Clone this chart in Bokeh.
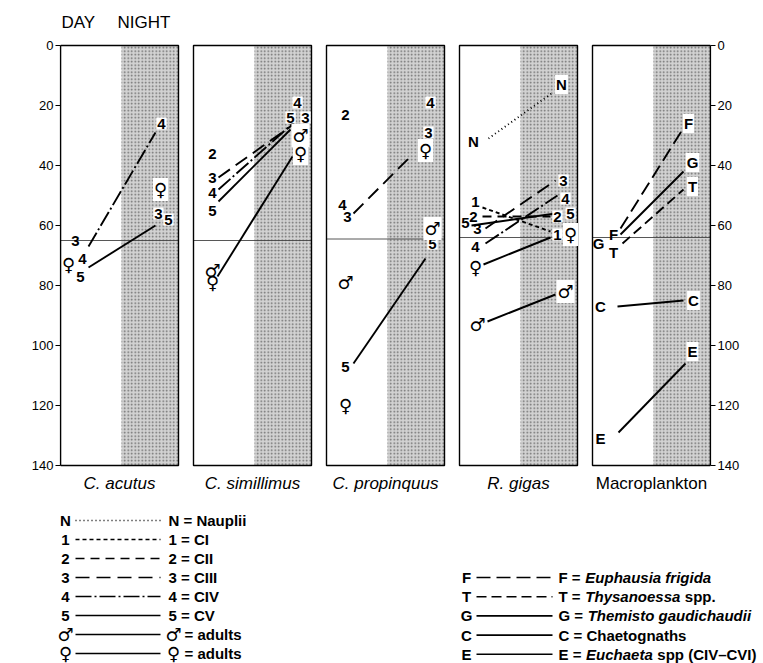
import math
from bokeh.plotting import figure
from bokeh.layouts import column
from bokeh.models import Range1d, LinearAxis, FixedTicker, Label
from bokeh.embed import file_html
from bokeh.resources import INLINE
from bokeh.core.properties import value

FONT = "Liberation Sans"
SYMFONT = "DejaVu Sans"

# ---------------- data (depths in m) ----------------
panel_names = ["C. acutus", "C. simillimus", "C. propinquus", "R. gigas", "Macroplankton"]
panel_styles = ["italic", "italic", "italic", "italic", "normal"]
depth_ticks = [0, 20, 40, 60, 80, 100, 120, 140]
boundary_depth = [65, 65, 64.5, 64, 64]

# C. acutus
acutus_labels = ["3", "4", "5", "♀"]
acutus_day = [65, 71, 77, 73]
acutus_night = [56, 26, 58, 48]
acutus_lines = ["4", "5"]
acutus_line_day = [67, 74]
acutus_line_night = [29, 60]

# C. simillimus
simil_labels = ["2", "3", "4", "5", "♂", "♀"]
simil_day = [36, 44, 49, 55, 75, 79]
simil_night = [None, 24, 19, 24, 30, 36]
simil_lines = ["3", "4", "5", "♀"]
simil_line_day = [44, 48, 52, 77]
simil_line_night = [26.5, 25.5, 28, 37]

# C. propinquus
propin_labels = ["2", "3", "4", "5", "♂", "♀"]
propin_day = [23, 57, 53, 107, 79, 120]
propin_night = [None, 29, 19, 66, 61, 35]
propin_lines = ["3", "5"]
propin_line_day = [56, 106]
propin_line_night = [37, 71]

# R. gigas
gigas_labels = ["N", "1", "2", "3", "4", "5", "♀", "♂"]
gigas_day = [32, 52, 57, 61, 67, 59, 74, 93]
gigas_night = [13, 63, 57, 45, 51, 56, 63, 82]
gigas_lines = ["N", "1", "2", "3", "4", "5", "♀", "♂"]
gigas_line_day = [31, 54, 57, 61, 66, 60, 73, 92]
gigas_line_night = [16, 62, 57, 45, 50, 56, 64, 83]

# Macroplankton
macro_labels = ["F", "G", "T", "C", "E"]
macro_day = [63, 66, 69, 87, 131]
macro_night = [26, 39, 47, 85, 102]
macro_lines = ["F", "G", "T", "C", "E"]
macro_line_day = [61, 63, 66, 87, 129]
macro_line_night = [28, 42, 48, 85, 106]

legend_left_keys = ["N", "1", "2", "3", "4", "5", "♂", "♀"]
legend_left_text = ["N = Nauplii", "1 = CI", "2 = CII", "3 = CIII", "4 = CIV", "5 = CV",
                    "= adults", "= adults"]
legend_right_keys = ["F", "T", "G", "C", "E"]
legend_right_pre = ["F =", "T =", "G =", "C = Chaetognaths", "E ="]
legend_right_ital = ["Euphausia frigida", "Thysanoessa", "Themisto gaudichaudii", "", "Euchaeta"]
legend_right_post = ["", "spp.", "", "", "spp (CIV\u2013CVI)"]

# ---------------- styles / layout ----------------
SYMBOLS = ("♂", "♀")
DASH = {"N": "1 3", "1": "4 3", "2": "9 6", "3": "14 7", "4": "16 3 2 3",
        "5": "solid", "♂": "solid", "♀": "solid",
        "F": "14 6", "T": "10 5", "G": "solid", "C": "solid", "E": "solid"}

PANEL_LEFT = [60, 193, 326, 459, 592]
PANEL_W = 118
SHADE_X = 61

panels = [
    dict(labels=acutus_labels, day=acutus_day, night=acutus_night,
         lines=acutus_lines, lday=acutus_line_day, lnight=acutus_line_night,
         dx=[15, 22, 20, 8], nx=[98, 101, 108, 100],
         ldx=[28, 28], lnx=[95, 95]),
    dict(labels=simil_labels, day=simil_day, night=simil_night,
         lines=simil_lines, lday=simil_line_day, lnight=simil_line_night,
         dx=[19, 19, 19, 19, 19, 19], nx=[0, 112, 104, 97, 107, 107],
         ldx=[25, 25, 25, 24], lnx=[99, 101, 97, 99]),
    dict(labels=propin_labels, day=propin_day, night=propin_night,
         lines=propin_lines, lday=propin_line_day, lnight=propin_line_night,
         dx=[19, 21, 16, 19, 19, 19], nx=[0, 102, 104, 106, 106, 99],
         ldx=[27, 27], lnx=[84, 99]),
    dict(labels=gigas_labels, day=gigas_day, night=gigas_night,
         lines=gigas_lines, lday=gigas_line_day, lnight=gigas_line_night,
         dx=[14, 16, 14, 18, 16, 6, 16, 18], nx=[102, 98, 98, 104, 106, 111, 111, 106],
         ldx=[29, 23, 23, 26, 26, 12, 24, 28], lnx=[92, 91, 91, 96, 98, 96, 91, 96]),
    dict(labels=macro_labels, day=macro_day, night=macro_night,
         lines=macro_lines, lday=macro_line_day, lnight=macro_line_night,
         dx=[21, 6, 21, 8, 8], nx=[96, 100, 100, 101, 100],
         ldx=[28, 28, 30, 25, 26], lnx=[90, 91, 91, 91, 93]),
]

# top figure: frame image x 60..710 (x data == image px), y 0..500 ; depth y = 45 + 3*d
W = 763
TOP_H = 500
TOTAL_H = 663
y_top = (0 - 45) / 3.0
y_bot = (TOP_H - 45) / 3.0

p = figure(width=W, height=TOP_H, x_range=Range1d(60, 710), y_range=Range1d(y_bot, y_top),
           x_axis_location=None, y_axis_location="left",
           output_backend="svg", toolbar_location=None,
           min_border_left=60, min_border_right=53, min_border_top=0, min_border_bottom=0)
p.extra_y_ranges = {"px": Range1d(TOP_H, 0)}
p.outline_line_color = None
p.grid.grid_line_color = None
p.background_fill_color = "white"
p.border_fill_color = "white"

lax = p.yaxis[0]
rax = LinearAxis()
p.add_layout(rax, "right")
for ax in (lax, rax):
    ax.ticker = FixedTicker(ticks=depth_ticks)
    ax.bounds = (0, 140)
    ax.major_tick_in = 0
    ax.major_tick_out = 5
    ax.minor_tick_out = 0
    ax.minor_tick_in = 0
    ax.major_label_standoff = 2
    ax.major_label_text_font = FONT
    ax.major_label_text_font_size = "13px"
    ax.major_label_text_color = "black"
    ax.axis_line_color = "black"
    ax.axis_line_width = 1.2
    ax.major_tick_line_width = 1.2

p.add_layout(Label(x=18, y=(222 - 45) / 3.0, text="DEPTH (m)", angle=math.pi / 2,
                   text_font=FONT, text_font_size="19px", text_align="center",
                   text_baseline="middle", text_color="black"))


def draw_labels(fig, xs, ys, labs, bg=False, size="15px", symsize="18px", yname="default"):
    groups = {False: ([], [], []), True: ([], [], [])}
    for x, y, t in zip(xs, ys, labs):
        g = groups[t in SYMBOLS]
        g[0].append(x); g[1].append(y); g[2].append(t)
    extra = dict(background_fill_color="white", padding=1) if bg else {}
    gx, gy, gt = groups[False]
    if gt:
        fig.text(x=gx, y=gy, text=gt, text_font=value(FONT), text_font_size=size,
                 text_font_style="bold", text_align="center", text_baseline="middle",
                 text_color="black", y_range_name=yname, **extra)
    gx, gy, gt = groups[True]
    if gt:
        fig.text(x=gx, y=gy, text=gt, text_font=value(SYMFONT), text_font_size=symsize,
                 text_font_style="normal", text_align="center", text_baseline="middle",
                 text_color="black", y_range_name=yname, **extra)


# panels
for i, left in enumerate(PANEL_LEFT):
    p.quad(left=left + SHADE_X, right=left + PANEL_W, top=0, bottom=140,
           fill_color="#d2d2d2", line_color=None,
           hatch_pattern="dot", hatch_color="#6a6a6a", hatch_scale=3.5, hatch_weight=1.0)
    p.line([left, left + PANEL_W], [boundary_depth[i], boundary_depth[i]],
           line_color="#444444", line_width=0.9)
    p.quad(left=left, right=left + PANEL_W, top=0, bottom=140,
           fill_color=None, line_color="black", line_width=1.4)
    p.text(x=[left + PANEL_W / 2], y=[483], text=[panel_names[i]], y_range_name="px",
           text_font=value(FONT), text_font_size="17px", text_font_style=panel_styles[i],
           text_align="center", text_baseline="middle", text_color="black")

for i, pan in enumerate(panels):
    left = PANEL_LEFT[i]
    for k, st in enumerate(pan["lines"]):
        p.line([left + pan["ldx"][k], left + pan["lnx"][k]],
               [pan["lday"][k], pan["lnight"][k]],
               line_color="black", line_width=1.9, line_dash=DASH[st])
    draw_labels(p, [left + v for v in pan["dx"]], pan["day"], pan["labels"])
    nx, ny, nt = [], [], []
    for k, lab in enumerate(pan["labels"]):
        if pan["night"][k] is not None:
            nx.append(left + pan["nx"][k]); ny.append(pan["night"][k]); nt.append(lab)
    draw_labels(p, nx, ny, nt, bg=True)

p.text(x=[61, 117], y=[22, 22], text=["DAY", "NIGHT"], y_range_name="px",
       text_font=value(FONT), text_font_size="17px", text_align="left",
       text_baseline="middle", text_color="black")

# ---------------- legend figure: full-width frame, image pixel coordinates ----------------
lg = figure(width=W, height=TOTAL_H - TOP_H, x_range=Range1d(0, W),
            y_range=Range1d(TOTAL_H, TOP_H),
            x_axis_location=None, y_axis_location=None,
            output_backend="svg", toolbar_location=None,
            min_border_left=0, min_border_right=0, min_border_top=0, min_border_bottom=0)
lg.outline_line_color = None
lg.grid.grid_line_color = None
for fig in (p, lg):
    if "frame_align" in fig.properties():
        fig.frame_align = False

LSIZE = "15px"
row_y_left = [520 + 19 * k for k in range(len(legend_left_keys))]
draw_labels(lg, [65] * len(legend_left_keys), row_y_left, legend_left_keys, size=LSIZE)
for k, key in enumerate(legend_left_keys):
    lg.line([75, 160], [row_y_left[k], row_y_left[k]], line_color="black",
            line_width=1.6, line_dash=DASH[key])
txt_x, txt_y, txt_t = [], [], []
sym_x, sym_y, sym_t = [], [], []
for k, key in enumerate(legend_left_keys):
    if key in SYMBOLS:
        sym_x.append(173); sym_y.append(row_y_left[k]); sym_t.append(key)
        txt_x.append(184); txt_y.append(row_y_left[k]); txt_t.append(legend_left_text[k])
    else:
        txt_x.append(168); txt_y.append(row_y_left[k]); txt_t.append(legend_left_text[k])
draw_labels(lg, sym_x, sym_y, sym_t)
lg.text(x=txt_x, y=txt_y, text=txt_t, text_font=value(FONT), text_font_size=LSIZE,
        text_font_style="bold", text_align="left", text_baseline="middle")

row_y_right = [577 + 19.2 * k for k in range(len(legend_right_keys))]
draw_labels(lg, [466] * len(legend_right_keys), row_y_right, legend_right_keys, size=LSIZE)
for k, key in enumerate(legend_right_keys):
    lg.line([476, 552], [row_y_right[k], row_y_right[k]], line_color="black",
            line_width=1.6, line_dash=DASH[key])

# advance widths (Arial/Liberation bold metrics at 15px, incl. a following space)
W_PRE = {"F =": 26.8, "T =": 26.8, "G =": 29.2, "E =": 27.6}
W_ITAL = {"Thysanoessa": 99.5, "Euchaeta": 71.2}
pre_x = 558
ix, iy, it = [], [], []
qx, qy, qt = [], [], []
for k in range(len(legend_right_keys)):
    if legend_right_ital[k]:
        x0 = pre_x + W_PRE[legend_right_pre[k]]
        ix.append(x0); iy.append(row_y_right[k]); it.append(legend_right_ital[k])
        if legend_right_post[k]:
            qx.append(x0 + W_ITAL[legend_right_ital[k]]); qy.append(row_y_right[k])
            qt.append(legend_right_post[k])
common = dict(text_font=value(FONT), text_font_size=LSIZE, text_align="left",
              text_baseline="middle", text_color="black")
lg.text(x=[pre_x] * len(legend_right_pre), y=row_y_right, text=legend_right_pre,
        text_font_style="bold", **common)
lg.text(x=ix, y=iy, text=it, text_font_style="bold italic", **common)
lg.text(x=qx, y=qy, text=qt, text_font_style="bold", **common)

layout = column(p, lg, spacing=0)
open("out.html", "w").write(file_html(layout, INLINE))
